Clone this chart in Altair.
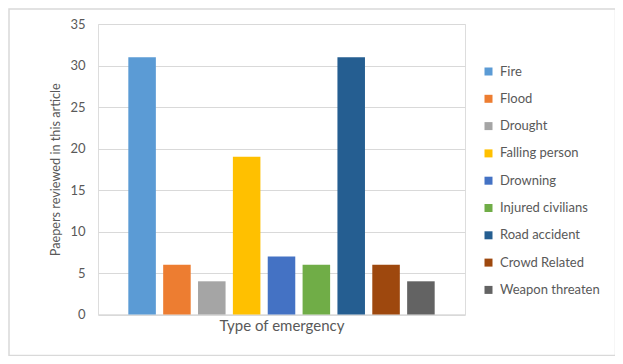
import altair as alt
import pandas as pd

categories = ["Fire", "Flood", "Drought", "Falling person", "Drowning",
              "Injured civilians", "Road accident", "Crowd Related", "Weapon threaten"]
values = [31, 6, 4, 19, 7, 6, 31, 6, 4]
colors = ["#5B9BD5", "#ED7D31", "#A5A5A5", "#FFC000", "#4472C4",
          "#70AD47", "#255E91", "#9E480E", "#636363"]
y_ticks = [0, 5, 10, 15, 20, 25, 30, 35]

df = pd.DataFrame({"cat": categories, "val": values})

FONT = "Lato"
TXT = "#595959"
GRID = "#D9D9D9"

W, H = 367, 290.5
PL, PT = 90, 16

bars = alt.Chart(df).mark_bar().encode(
    x=alt.X("cat:N", sort=categories,
            scale=alt.Scale(paddingInner=0.21, paddingOuter=0.87),
            axis=alt.Axis(labels=False, ticks=False, title="Type of emergency",
                          domainColor=GRID, titleFont=FONT, titleFontSize=15,
                          titleFontWeight="normal", titleColor=TXT, titlePadding=4)),
    y=alt.Y("val:Q", scale=alt.Scale(domain=[0, 35], nice=False),
            axis=alt.Axis(values=y_ticks, ticks=False, domain=False, gridColor=GRID,
                          labelFont=FONT, labelFontSize=13, labelColor=TXT, labelPadding=13,
                          title="Paepers reviewed in this article", titleFont=FONT,
                          titleFontSize=12.7, titleFontWeight="normal", titleColor=TXT,
                          titlePadding=7)),
    color=alt.Color("cat:N", sort=categories,
                    scale=alt.Scale(domain=categories, range=colors),
                    legend=alt.Legend(title=None, orient="none", legendX=384, legendY=41,
                                      symbolType="square", symbolSize=64,
                                      symbolStrokeWidth=0, labelFont=FONT,
                                      labelFontSize=13, labelColor=TXT,
                                      rowPadding=13.3, labelOffset=5)),
)

border = alt.Chart(pd.DataFrame({"a": [0]})).mark_rect(
    fill=None, stroke=GRID, strokeWidth=1.5
).encode(
    x=alt.value(-89),
    x2=alt.value(615.5 - 98),
    y=alt.value(-15),
    y2=alt.value(355.5 - 24),
)

chart = alt.layer(bars, border).properties(
    width=W, height=H,
    autosize=alt.AutoSizeParams(type="none"),
    padding={"left": PL, "top": PT, "right": 623 - 16 - PL - W, "bottom": 348 - PT - H},
).configure_view(stroke=None).configure(background="white")

chart.save("out.html", embed_options={"renderer": "svg", "actions": False})
